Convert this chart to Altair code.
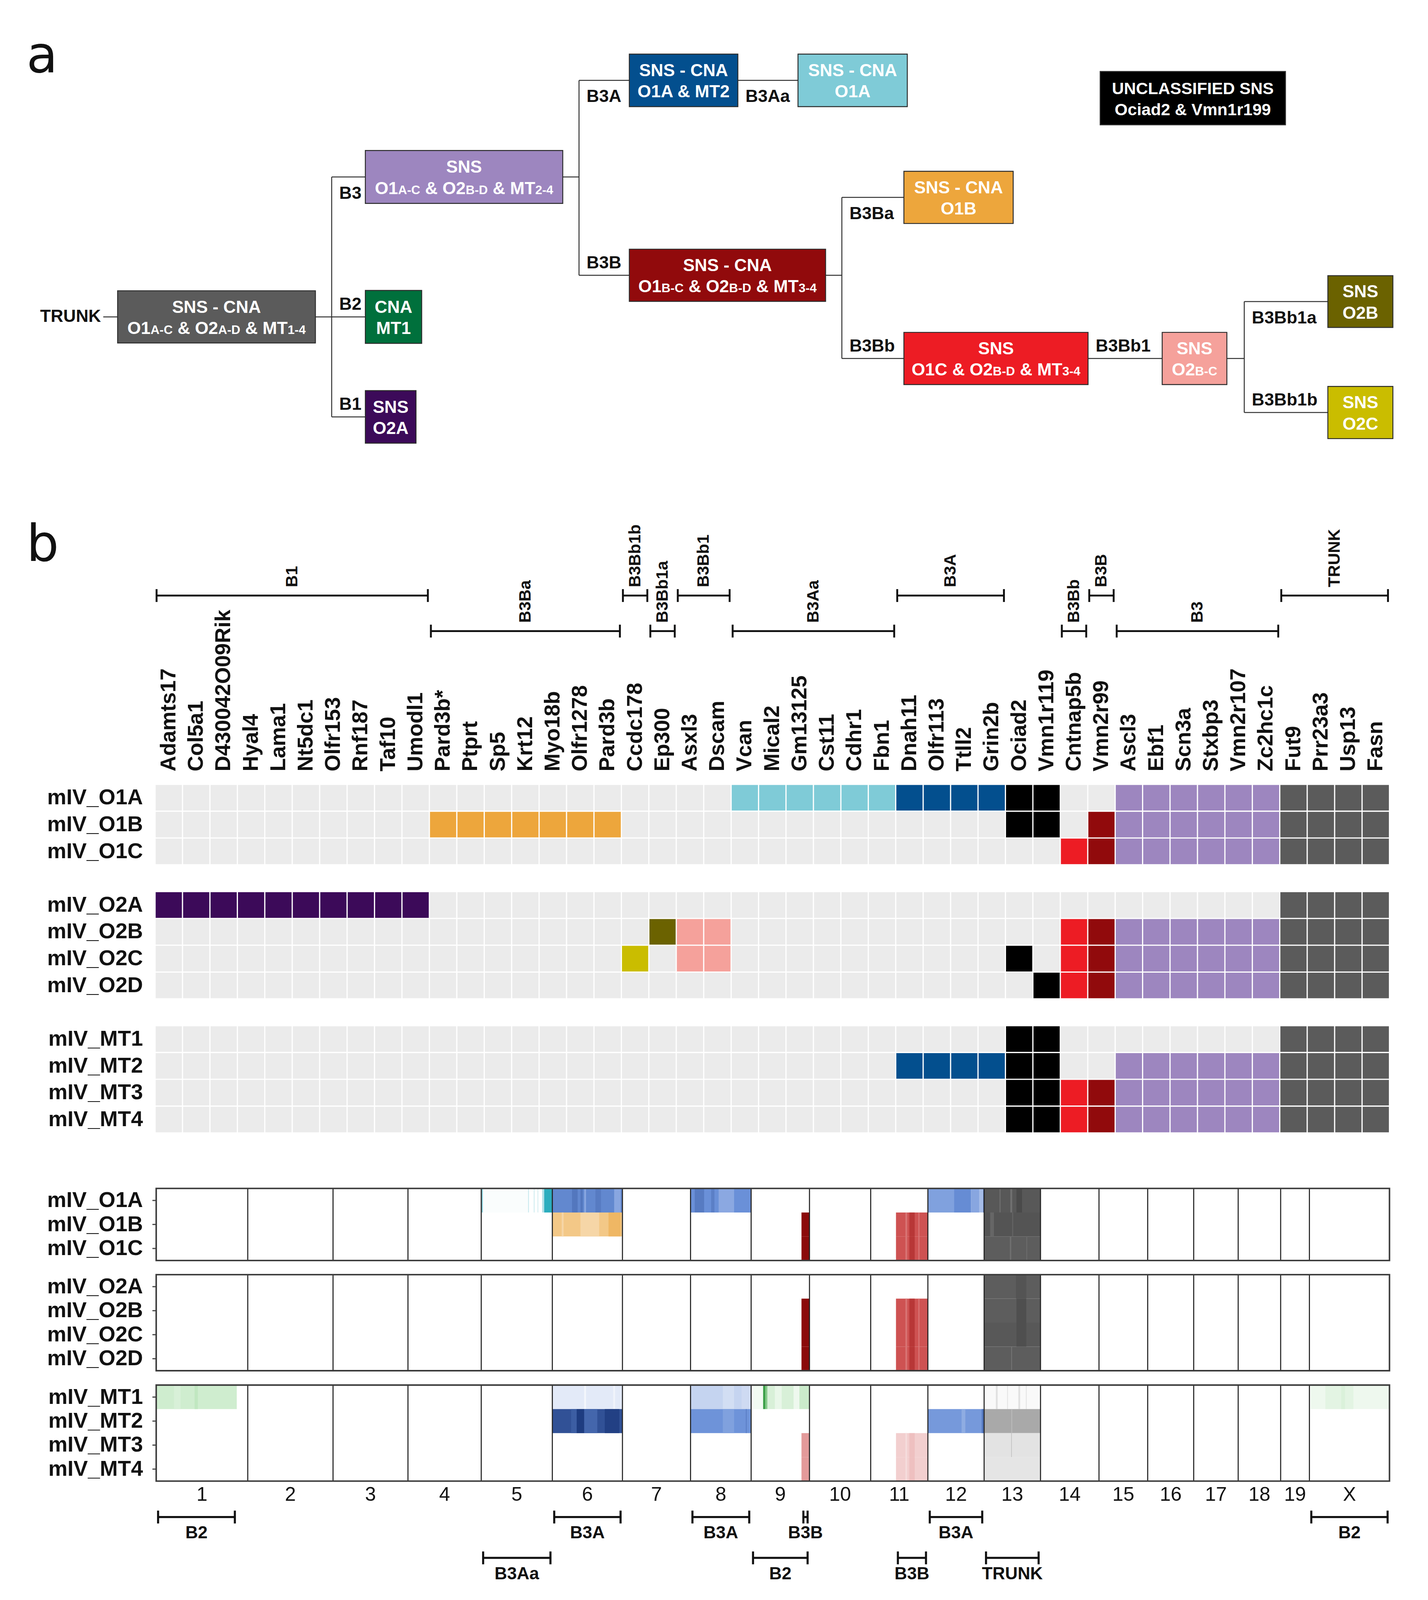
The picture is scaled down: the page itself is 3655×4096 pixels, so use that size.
import re
import altair as alt
import pandas as pd

S = 0.968                      # output px per reference px
W_OUT, H_OUT = 3639, 4080      # plot area (page has an 8px margin)
XSC = alt.Scale(domain=[8 / S, (8 + W_OUT) / S], nice=False, zero=False)
YSC = alt.Scale(domain=[(8 + H_OUT) / S, 8 / S], nice=False, zero=False)
FONT = "Liberation Sans, Arial, Helvetica, sans-serif"
LETTER_FONT = "DejaVu Sans, Noto Sans, sans-serif"

# ======================= DATA =======================
genes = ["Adamts17", "Col5a1", "D430042O09Rik", "Hyal4", "Lama1", "Nt5dc1", "Olfr153", "Rnf187", "Taf10", "Umodl1",
         "Pard3b*", "Ptprt", "Sp5", "Krt12", "Myo18b", "Olfr1278", "Pard3b",
         "Ccdc178", "Ep300", "Asxl3", "Dscam",
         "Vcan", "Mical2", "Gm13125", "Cst11", "Cdhr1", "Fbn1",
         "Dnah11", "Olfr113", "Ttll2", "Grin2b",
         "Ociad2", "Vmn1r119", "Cntnap5b", "Vmn2r99",
         "Ascl3", "Ebf1", "Scn3a", "Stxbp3", "Vmn2r107", "Zc2hc1c",
         "Fut9", "Prr23a3", "Usp13", "Fasn"]
gene_branch = (["B1"] * 10 + ["B3Ba"] * 7 + ["B3Bb1b", "B3Bb1a", "B3Bb1", "B3Bb1"] + ["B3Aa"] * 6 +
               ["B3A"] * 4 + ["UNCL", "UNCL", "B3Bb", "B3B"] + ["B3"] * 6 + ["TRUNK"] * 4)

samples = ["mIV_O1A", "mIV_O1B", "mIV_O1C", "mIV_O2A", "mIV_O2B", "mIV_O2C", "mIV_O2D",
           "mIV_MT1", "mIV_MT2", "mIV_MT3", "mIV_MT4"]
sample_group = [0, 0, 0, 1, 1, 1, 1, 2, 2, 2, 2]
# gene presence per sample (1 = marked), grouped by branch for readability
presence = [
    "0000000000 0000000 0 0 00 111111 1111 11 0 0 111111 1111",
    "0000000000 1111111 0 0 00 000000 0000 11 0 1 111111 1111",
    "0000000000 0000000 0 0 00 000000 0000 00 1 1 111111 1111",
    "1111111111 0000000 0 0 00 000000 0000 00 0 0 000000 1111",
    "0000000000 0000000 0 1 11 000000 0000 00 1 1 111111 1111",
    "0000000000 0000000 1 0 11 000000 0000 10 1 1 111111 1111",
    "0000000000 0000000 0 0 00 000000 0000 01 1 1 111111 1111",
    "0000000000 0000000 0 0 00 000000 0000 11 0 0 000000 1111",
    "0000000000 0000000 0 0 00 000000 1111 11 0 0 111111 1111",
    "0000000000 0000000 0 0 00 000000 0000 11 1 1 111111 1111",
    "0000000000 0000000 0 0 00 000000 0000 11 1 1 111111 1111",
]

gbr_label = ["B1", "B3Ba", "B3Bb1b", "B3Bb1a", "B3Bb1", "B3Aa", "B3A", "B3Bb", "B3B", "B3", "TRUNK"]
gbr_first = [0, 10, 17, 18, 19, 21, 27, 33, 34, 35, 41]
gbr_last = [9, 16, 17, 18, 20, 26, 30, 33, 34, 40, 44]
gbr_level = [1, 2, 1, 2, 1, 2, 1, 2, 1, 2, 1]

chromosomes = [str(i) for i in range(1, 20)] + ["X"]
chrom_length_mb = [195.5, 182.1, 160.0, 156.5, 151.8, 149.7, 145.4, 129.4, 124.6, 130.7,
                   122.1, 120.1, 120.4, 124.9, 104.0, 98.2, 95.0, 90.7, 61.4, 171.0]

# copy-number segments: (start Mb, end Mb, samples, branch, level)
cna_chr1 = [(0, 172, "MT1", "B2", 0.55), (38, 52, "MT1", "B2", 0.45), (82, 89, "MT1", "B2", 0.72)]
cna_chr5 = [(0, 3.5, "O1A", "B3Aa", 0.9), (3.5, 100, "O1A", "B3Aa", 0.04), (100, 102, "O1A", "B3Aa", 0.4),
            (112, 114, "O1A", "B3Aa", 0.35), (120, 122, "O1A", "B3Aa", 0.3), (130, 134.5, "O1A", "B3Aa", 0.6),
            (134.5, 151.8, "O1A", "B3Aa", 1.8)]
cna_chr6 = [(0, 149.7, "O1A", "B3A", 1.1), (42, 54, "O1A", "B3A", 1.3), (60, 65, "O1A", "B3A", 1.3),
            (68, 72, "O1A", "B3A", 0.8), (92, 104, "O1A", "B3A", 1.25), (132, 146, "O1A", "B3A", 0.8),
            (0, 149.7, "O1B", "B3Ba", 0.95), (20, 24, "O1B", "B3Ba", 0.7), (60, 100, "O1B", "B3Ba", 0.7),
            (120, 146, "O1B", "B3Ba", 1.3),
            (0, 149.7, "MT1", "B3A", 0.19), (68, 72, "MT1", "B3A", 0.08), (130, 134, "MT1", "B3A", 0.1),
            (0, 149.7, "MT2", "B3A", 1.75), (40, 52, "MT2", "B3A", 1.6), (52, 68, "MT2", "B3A", 2.0),
            (68, 96, "MT2", "B3A", 1.5), (112, 143, "MT2", "B3A", 1.95)]
cna_chr8 = [(0, 129.4, "O1A", "B3A", 1.0), (9, 29, "O1A", "B3A", 1.25), (44, 51, "O1A", "B3A", 1.2),
            (60, 93, "O1A", "B3A", 0.78),
            (0, 129.4, "MT1", "B3A", 0.39), (69, 93, "MT1", "B3A", 0.3), (109, 128, "MT1", "B3A", 0.33),
            (0, 129.4, "MT2", "B3A", 0.97), (69, 93, "MT2", "B3A", 0.85), (118, 120, "MT2", "B3A", 1.2)]
cna_chr9 = [(107.5, 124.6, "O1B O1C O2B O2C O2D", "B3B", 2.0), (107.5, 124.6, "MT3 MT4", "B3B", 1.0),
            (4.5, 25.6, "MT1", "B2", 0.15), (25.6, 30.3, "MT1", "B2", 1.8), (30.3, 35, "MT1", "B2", 1.25),
            (35, 51, "MT1", "B2", 0.45), (51, 65, "MT1", "B2", 0.25), (65, 91, "MT1", "B2", 0.45),
            (91, 103, "MT1", "B2", 0.2), (103, 124.6, "MT1", "B2", 0.6)]
cna_chr11 = [(54, 122.1, "O1B O1C O2B O2C O2D", "B3B", 1.45), (74, 78, "O1B O1C O2B O2C O2D", "B3B", 1.25),
             (82.5, 94, "O1B O1C O2B O2C O2D", "B3B", 1.65), (102, 104, "O1B O1C O2B O2C O2D", "B3B", 1.2),
             (54, 122.1, "MT3 MT4", "B3B", 0.48), (74, 78, "MT3 MT4", "B3B", 0.35),
             (82.5, 94, "MT3 MT4", "B3B", 0.62)]
cna_chr12 = [(0, 56, "O1A", "B3A", 0.85), (56, 92, "O1A", "B3A", 1.05), (92, 110, "O1A", "B3A", 0.8),
             (110, 118, "O1A", "B3A", 0.6), (118, 120.1, "O1A", "B3A", 1.4),
             (0, 120.1, "MT2", "B3A", 0.92), (72, 80, "MT2", "B3A", 0.75), (115, 120.1, "MT2", "B3A", 1.3)]
cna_chr13 = [(0, 120.4, "O1A", "TRUNK", 1.85), (33, 35, "O1A", "TRUNK", 1.6), (56, 60, "O1A", "TRUNK", 1.6),
             (69, 81, "O1A", "TRUNK", 2.0),
             (0, 120.4, "O1B", "TRUNK", 1.9), (13, 21, "O1B", "TRUNK", 1.7), (60, 62, "O1B", "TRUNK", 1.7),
             (0, 120.4, "O1C", "TRUNK", 1.8), (55, 58, "O1C", "TRUNK", 1.6), (90, 92, "O1C", "TRUNK", 1.65),
             (0, 120.4, "O2A", "TRUNK", 1.8), (68, 90, "O2A", "TRUNK", 1.9),
             (0, 120.4, "O2B", "TRUNK", 1.8), (69, 90, "O2B", "TRUNK", 1.95),
             (0, 120.4, "O2C", "TRUNK", 1.85), (69, 90, "O2C", "TRUNK", 1.95),
             (0, 120.4, "O2D", "TRUNK", 1.8), (58, 59.5, "O2D", "TRUNK", 1.5),
             (0, 120.4, "MT1", "TRUNK", 0.07), (25, 29, "MT1", "TRUNK", 0.35), (49, 51, "MT1", "TRUNK", 0.3),
             (73, 77, "MT1", "TRUNK", 0.35), (89, 91, "MT1", "TRUNK", 0.3),
             (0, 120.4, "MT2", "TRUNK", 1.0), (58, 60, "MT2", "TRUNK", 0.8),
             (0, 120.4, "MT3", "TRUNK", 0.33), (58, 59, "MT3", "TRUNK", 0.9),
             (0, 120.4, "MT4", "TRUNK", 0.3)]
cna_chrX = [(2.5, 171.0, "MT1", "B2", 0.2), (34, 94, "MT1", "B2", 0.32), (68, 76, "MT1", "B2", 0.42)]
cna_by_chrom = {"1": cna_chr1, "5": cna_chr5, "6": cna_chr6, "8": cna_chr8, "9": cna_chr9,
                "11": cna_chr11, "12": cna_chr12, "13": cna_chr13, "X": cna_chrX}

cbr_label = ["B2", "B3Aa", "B3A", "B3A", "B2", "B3B", "B3B", "B3A", "TRUNK", "B2"]
cbr_chrom = ["1", "5", "6", "8", "9", "9", "11", "12", "13", "X"]
cbr_start = [0, 0, 0, 0, 0, 107.5, 54, 0, 0, 0]
cbr_end = [172, 151.8, 149.7, 129.4, 124.6, 124.6, 122.1, 120.1, 120.4, 171.0]
cbr_level = [1, 2, 1, 1, 2, 1, 2, 1, 2, 1]

tree_nodes = ["TRUNK", "B3", "B2", "B1", "B3A", "B3Aa", "B3B", "B3Ba", "B3Bb", "B3Bb1", "B3Bb1a", "B3Bb1b", "UNCL"]
tree_parent = ["", "TRUNK", "TRUNK", "TRUNK", "B3", "B3A", "B3", "B3B", "B3B", "B3Bb", "B3Bb1", "B3Bb1", ""]
tree_line1 = ["SNS - CNA", "SNS", "CNA", "SNS", "SNS - CNA", "SNS - CNA", "SNS - CNA", "SNS - CNA",
              "SNS", "SNS", "SNS", "SNS", "UNCLASSIFIED SNS"]
tree_line2 = ["O1{A-C} & O2{A-D} & MT{1-4}", "O1{A-C} & O2{B-D} & MT{2-4}", "MT1", "O2A", "O1A & MT2", "O1A",
              "O1{B-C} & O2{B-D} & MT{3-4}", "O1B", "O1C & O2{B-D} & MT{3-4}", "O2{B-C}", "O2B", "O2C",
              "Ociad2 & Vmn1r199"]

# ======================= STYLE / LAYOUT =======================
COL = {"TRUNK": "#5b5b5b", "B1": "#3c0a59", "B2": "#00703c", "B3": "#9d86bf", "B3A": "#034f8e",
       "B3Aa": "#7fcbd7", "B3B": "#910a0c", "B3Ba": "#eda63c", "B3Bb": "#ed1c24", "B3Bb1": "#f5a19b",
       "B3Bb1a": "#6b6200", "B3Bb1b": "#cabd00", "UNCL": "#000000"}
EMPTY = "#ebebeb"
RAMPS = {"B3Aa": [(0, "#ffffff"), (1, "#7fcbd7"), (2, "#16a6b8")],
         "B3A": [(0, "#ffffff"), (1, "#6a90d8"), (2, "#1e3c80")],
         "B3Ba": [(0, "#ffffff"), (1, "#f2c581"), (2, "#e8971f")],
         "B3B": [(0, "#ffffff"), (1, "#e39a9a"), (1.5, "#cc4a4a"), (2, "#8b0a0a")],
         "B2": [(0, "#ffffff"), (1, "#a8dea8"), (2, "#1f8f2f")],
         "TRUNK": [(0, "#ffffff"), (1, "#a9a9a9"), (2, "#4a4a4a")]}

BOX = {"TRUNK": (311, 834, 769, 907), "B3": (966, 1488, 398, 538), "B2": (966, 1115, 768, 908),
       "B1": (966, 1100, 1033, 1172), "B3A": (1664, 1951, 143, 282), "B3Aa": (2110, 2399, 143, 282),
       "B3B": (1664, 2183, 659, 797), "B3Ba": (2390, 2679, 453, 591), "B3Bb": (2390, 2877, 879, 1017),
       "B3Bb1": (3073, 3244, 879, 1017), "B3Bb1a": (3511, 3683, 729, 866), "B3Bb1b": (3511, 3683, 1022, 1160),
       "UNCL": (2909, 3399, 189, 330)}
SPLIT_X = {"TRUNK": 877, "B3": 1531, "B3B": 2226, "B3Bb1": 3290}
LABEL_BELOW = {"B3", "B3A", "B3Aa", "B3Ba", "B3Bb1a"}
BIG, SMALL = 46, 33
AW = {' ': 278, '&': 722, '-': 333, 'A': 722, 'B': 722, 'C': 722, 'D': 722, 'M': 833, 'O': 778, 'T': 611,
      '0': 556, '1': 556, '2': 556, '3': 556, '4': 556}

HM_X0, HM_X1, HM_Y0, HM_PITCH, HM_GAP = 410, 3674, 2076, 70.9, 3.2
GBR_Y = {1: 1575, 2: 1669}
CN_X0, CN_X1 = 413, 3674
CN_TOP = [3143, 3371, 3663]
CN_ROW = 63.5
CBR_Y = {1: 4012, 2: 4120}
ROW_LABEL_X = 378


def rgb(h):
    h = h.lstrip('#')
    return tuple(int(h[i:i + 2], 16) for i in (0, 2, 4))


def ramp_color(branch, level):
    stops = RAMPS[branch]
    level = max(stops[0][0], min(stops[-1][0], level))
    for (l0, c0), (l1, c1) in zip(stops, stops[1:]):
        if l0 <= level <= l1:
            t = (level - l0) / (l1 - l0)
            a, b = rgb(c0), rgb(c1)
            return '#%02x%02x%02x' % tuple(round(a[i] + (b[i] - a[i]) * t) for i in range(3))
    return stops[-1][1]


def tw(s, fs):
    return sum(AW.get(c, 600) for c in s) * fs / 1000.0


# ---------- chart helpers ----------
def rects(df, **mark):
    return alt.Chart(df).mark_rect(**mark).encode(
        x=alt.X('x:Q', scale=XSC, axis=None), x2='x2:Q',
        y=alt.Y('y:Q', scale=YSC, axis=None), y2='y2:Q',
        color=alt.Color('fill:N', scale=None))


def outlines(df, stroke, width):
    return alt.Chart(df).mark_rect(fill="white", fillOpacity=0, stroke=stroke, strokeWidth=width).encode(
        x=alt.X('x:Q', scale=XSC, axis=None), x2='x2:Q',
        y=alt.Y('y:Q', scale=YSC, axis=None), y2='y2:Q')


def rules(df, color, width):
    return alt.Chart(df).mark_rule(color=color, strokeWidth=width).encode(
        x=alt.X('x:Q', scale=XSC, axis=None), x2='x2:Q',
        y=alt.Y('y:Q', scale=YSC, axis=None), y2='y2:Q')


def texts(df, **mark):
    return alt.Chart(df).mark_text(**mark).encode(
        x=alt.X('x:Q', scale=XSC, axis=None), y=alt.Y('y:Q', scale=YSC, axis=None),
        text='text:N', size=alt.Size('size:Q', scale=None))


layers = []

# ======================= PANEL a : tree =======================
def cy(n):
    b = BOX[n]
    return (b[2] + b[3]) / 2


lines, blabels = [], []
for parent in tree_nodes:
    kids = [n for n, p in zip(tree_nodes, tree_parent) if p == parent]
    if not kids:
        continue
    px1 = BOX[parent][1]
    if len(kids) == 1:
        k = kids[0]
        lines.append(dict(x=px1, x2=BOX[k][0], y=cy(k), y2=cy(k)))
        lx = px1
    else:
        vx = SPLIT_X[parent]
        ys = [cy(k) for k in kids] + [cy(parent)]
        lines.append(dict(x=px1, x2=vx, y=cy(parent), y2=cy(parent)))
        lines.append(dict(x=vx, x2=vx, y=min(ys), y2=max(ys)))
        for k in kids:
            lines.append(dict(x=vx, x2=BOX[k][0], y=cy(k), y2=cy(k)))
        lx = vx
    for k in kids:
        blabels.append(dict(x=lx + 20, y=cy(k) + (44 if k in LABEL_BELOW else -32), text=k, size=46 * S))
tx0 = BOX["TRUNK"][0]
lines.append(dict(x=tx0 - 38, x2=tx0, y=cy("TRUNK"), y2=cy("TRUNK")))
layers.append(rules(pd.DataFrame(lines), "#333333", 2.6 * S))

boxes = [dict(x=BOX[n][0], x2=BOX[n][1], y=BOX[n][2], y2=BOX[n][3], fill=COL[n]) for n in tree_nodes]
layers.append(rects(pd.DataFrame(boxes), stroke="#2b2b2b", strokeWidth=2.5 * S))

center_txt, seg_txt = [], []
for n, l1, l2 in zip(tree_nodes, tree_line1, tree_line2):
    x0, x1, y0, y1 = BOX[n]
    xc, yc = (x0 + x1) / 2, (y0 + y1) / 2
    fs = 44 if n == "UNCL" else BIG
    center_txt.append(dict(x=xc, y=yc - 11, text=l1, size=fs * S))
    parts = [p for p in re.split(r'(\{[^}]*\})', l2) if p]
    if len(parts) == 1:
        center_txt.append(dict(x=xc, y=yc + 45, text=l2, size=fs * S))
    else:
        segs = [(p[1:-1], SMALL) if p.startswith('{') else (p, BIG) for p in parts]
        total = sum(tw(t, f) for t, f in segs)
        cx = xc - total / 2
        for t, f in segs:
            stripped = t.lstrip(" ")
            lead = tw(t[:len(t) - len(stripped)], f)   # SVG drops leading blanks: shift instead
            seg_txt.append(dict(x=cx + lead, y=yc + 45, text=stripped.rstrip(" "), size=f * S))
            cx += tw(t, f)
layers.append(texts(pd.DataFrame(center_txt), align="center", baseline="alphabetic", font=FONT,
                    fontWeight="bold", color="white"))
layers.append(texts(pd.DataFrame(seg_txt), align="left", baseline="alphabetic", font=FONT,
                    fontWeight="bold", color="white"))
layers.append(texts(pd.DataFrame(blabels), align="left", baseline="middle", font=FONT,
                    fontWeight="bold", color="#111111"))
layers.append(texts(pd.DataFrame([dict(x=tx0 - 44, y=cy("TRUNK"), text="TRUNK", size=46 * S)]),
                    align="right", baseline="middle", font=FONT, fontWeight="bold", color="#111111"))

# panel letters
layers.append(texts(pd.DataFrame([dict(x=70, y=191, text="a", size=135 * S),
                                  dict(x=70, y=1483, text="b", size=135 * S)]),
                    align="left", baseline="alphabetic", font=LETTER_FONT, color="#111111"))

# ======================= PANEL b : gene heatmap =======================
cw = (HM_X1 - HM_X0) / len(genes)
cells, rlabels = [], []
for si, (s, g, bits) in enumerate(zip(samples, sample_group, presence)):
    bits = bits.replace(" ", "")
    slot = si + g
    top = HM_Y0 + slot * HM_PITCH
    for gi, b in enumerate(bits):
        cells.append(dict(x=HM_X0 + gi * cw + HM_GAP / 2, x2=HM_X0 + (gi + 1) * cw - HM_GAP / 2,
                          y=top, y2=top + HM_PITCH - HM_GAP,
                          fill=COL[gene_branch[gi]] if b == "1" else EMPTY))
    rlabels.append(dict(x=ROW_LABEL_X, y=top + (HM_PITCH - HM_GAP) / 2, text=s, size=57 * S))
layers.append(rects(pd.DataFrame(cells)))

glabels = [dict(x=HM_X0 + (i + 0.5) * cw, y=HM_Y0 - 36, text=g, size=57 * S) for i, g in enumerate(genes)]
layers.append(texts(pd.DataFrame(glabels), align="left", baseline="middle", angle=270, font=FONT,
                    fontWeight="bold", color="#111111"))

bl, bt, blab = [], [], []
for lab, f, l, lev in zip(gbr_label, gbr_first, gbr_last, gbr_level):
    xa, xb, yy = HM_X0 + f * cw + 4, HM_X0 + (l + 1) * cw - 4, GBR_Y[lev]
    bl.append(dict(x=xa, x2=xb, y=yy, y2=yy))
    bt.append(dict(x=xa, x2=xa, y=yy - 17, y2=yy + 17))
    bt.append(dict(x=xb, x2=xb, y=yy - 17, y2=yy + 17))
    blab.append(dict(x=(xa + xb) / 2, y=yy - 22, text=lab, size=44 * S))
layers.append(rules(pd.DataFrame(bl + bt), "#111111", 5 * S))
layers.append(texts(pd.DataFrame(blab), align="left", baseline="middle", angle=270, font=FONT,
                    fontWeight="bold", color="#111111"))

# ======================= PANEL b : copy-number =======================
total_mb = sum(chrom_length_mb)
mbpx = (CN_X1 - CN_X0) / total_mb
chrom_x0 = {}
acc = 0.0
for c, L in zip(chromosomes, chrom_length_mb):
    chrom_x0[c] = CN_X0 + acc * mbpx
    acc += L

short = [s.replace("mIV_", "") for s in samples]
group_sizes = [sample_group.count(k) for k in range(3)]
row_top = {}
for si, (s, g) in enumerate(zip(short, sample_group)):
    r = si - sum(group_sizes[:g])
    row_top[s] = CN_TOP[g] + r * CN_ROW
    rlabels.append(dict(x=ROW_LABEL_X, y=row_top[s] + CN_ROW / 2, text=samples[si], size=57 * S))

segs = []
for c in chromosomes:
    for (a, b, who, br, lev) in cna_by_chrom.get(c, []):
        for s in who.split():
            segs.append(dict(x=chrom_x0[c] + a * mbpx, x2=chrom_x0[c] + b * mbpx,
                             y=row_top[s], y2=row_top[s] + CN_ROW, fill=ramp_color(br, lev)))
layers.append(rects(pd.DataFrame(segs)))

seps, ticks, frames = [], [], []
for g in range(3):
    y0 = CN_TOP[g]
    y1 = y0 + group_sizes[g] * CN_ROW
    frames.append(dict(x=CN_X0, x2=CN_X1, y=y0, y2=y1))
    for c in chromosomes[1:]:
        seps.append(dict(x=chrom_x0[c], x2=chrom_x0[c], y=y0, y2=y1))
for s in short:
    yc = row_top[s] + CN_ROW / 2
    ticks.append(dict(x=CN_X0 - 10, x2=CN_X0, y=yc, y2=yc))
layers.append(rules(pd.DataFrame(seps), "#222222", 2.8 * S))
layers.append(rules(pd.DataFrame(ticks), "#444444", 3 * S))
layers.append(outlines(pd.DataFrame(frames), "#3a3a3a", 4 * S))

clabels = [dict(x=chrom_x0[c] + L * mbpx / 2, y=3953, text=c, size=52 * S)
           for c, L in zip(chromosomes, chrom_length_mb)]
layers.append(texts(pd.DataFrame(clabels), align="center", baseline="middle", font=FONT, color="#111111"))

cl, clab = [], []
for lab, c, a, b, lev in zip(cbr_label, cbr_chrom, cbr_start, cbr_end, cbr_level):
    xa, xb, yy = chrom_x0[c] + a * mbpx + 5, chrom_x0[c] + b * mbpx - 5, CBR_Y[lev]
    cl.append(dict(x=xa, x2=xb, y=yy, y2=yy))
    cl.append(dict(x=xa, x2=xa, y=yy - 17, y2=yy + 17))
    cl.append(dict(x=xb, x2=xb, y=yy - 17, y2=yy + 17))
    clab.append(dict(x=(xa + xb) / 2, y=yy + 43, text=lab, size=46 * S))
layers.append(rules(pd.DataFrame(cl), "#111111", 5.5 * S))
layers.append(texts(pd.DataFrame(clab), align="center", baseline="middle", font=FONT,
                    fontWeight="bold", color="#111111"))

layers.append(texts(pd.DataFrame(rlabels), align="right", baseline="middle", font=FONT,
                    fontWeight="bold", color="#111111"))

chart = alt.layer(*layers).properties(
    width=W_OUT, height=H_OUT, autosize=alt.AutoSizeParams(type="none"), padding=0
).configure_view(stroke=None)

chart.save("out.html", embed_options={"renderer": "svg", "actions": False})
